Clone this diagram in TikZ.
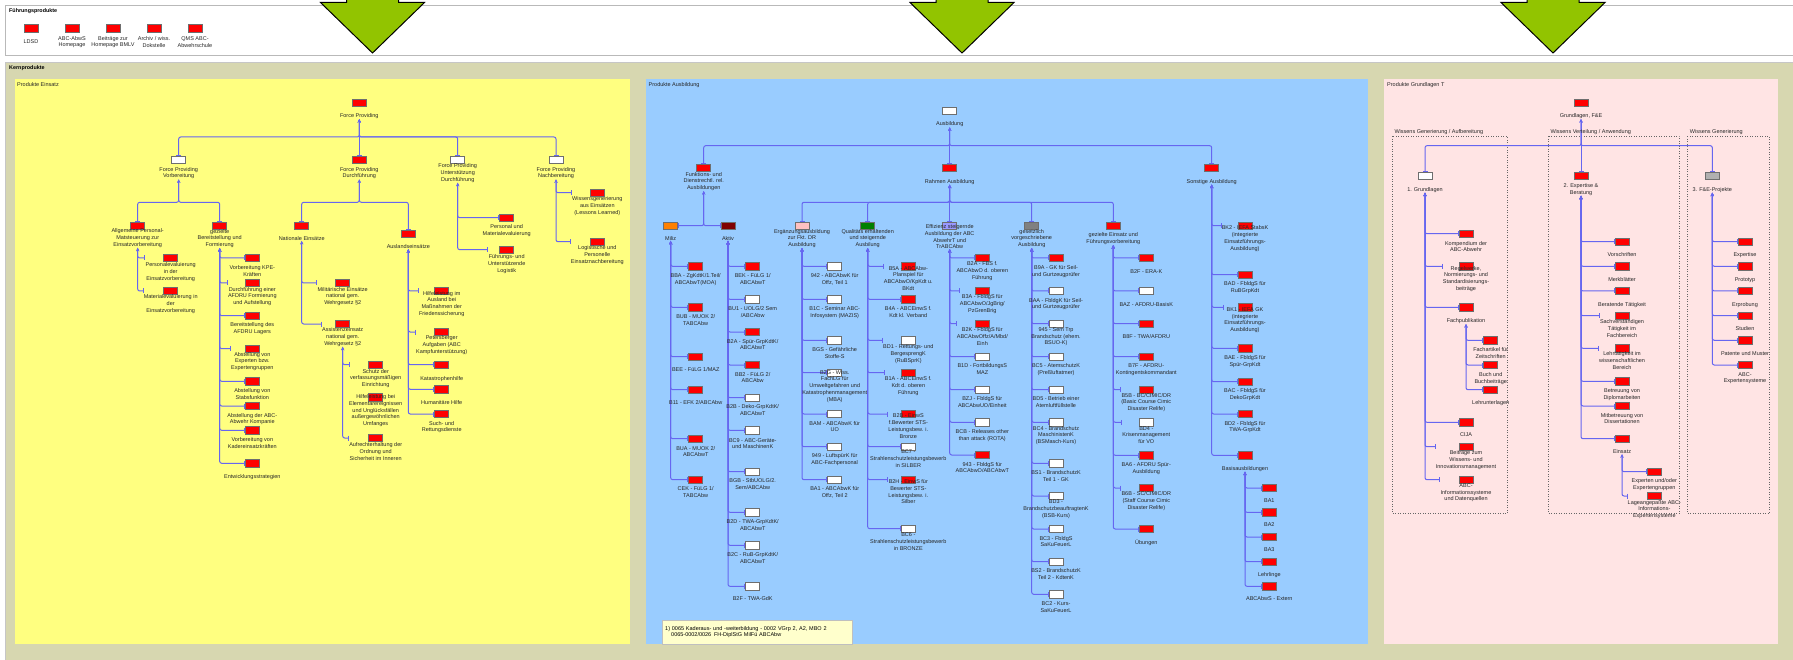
\documentclass[tikz,border=0pt]{standalone}
\usepackage{fontspec}
\setmainfont{Liberation Sans}
\usetikzlibrary{arrows.meta}
\pgfdeclarelayer{panels}
\pgfdeclarelayer{background}
\pgfsetlayers{panels,background,main}

\definecolor{linkblue}{RGB}{102,102,240}
\definecolor{boxline}{RGB}{110,110,110}
\definecolor{einsatzbg}{RGB}{255,255,128}
\definecolor{ausbbg}{RGB}{153,204,255}
\definecolor{grundbg}{RGB}{255,228,228}
\definecolor{kernbg}{RGB}{215,215,176}
\definecolor{arrowgreen}{RGB}{146,196,0}
\definecolor{milizorange}{RGB}{255,128,0}
\definecolor{aktivred}{RGB}{128,0,0}
\definecolor{ergpink}{RGB}{255,192,192}
\definecolor{qualgreen}{RGB}{0,128,0}
\definecolor{effviolet}{RGB}{153,153,255}
\definecolor{gesgray}{RGB}{128,128,128}
\definecolor{fegray}{RGB}{176,176,176}
\definecolor{notebg}{RGB}{255,255,204}

\newcommand\lbl{\fontsize{5.5}{6.7}\selectfont}

% x/y of the box / name / fill / y of first text line / text
\def\einsatzNodes{359.3/102.7/fp/red/115.7/{Force Providing},
  178.7/160/fpv/white/169.3/{Force Providing\\Vorbereitung},
  359.3/160/fpd/red/169.3/{Force Providing\\Durchführung},
  457.7/160/fpu/white/166/{Force Providing\\Unterstützung\\Durchführung},
  556/160/fpn/white/169.3/{Force Providing\\Nachbereitung},
  137.7/225.7/psm/red/231/{Allgemeine Personal-\\Matsteuerung zur\\Einsatzvorbereitung},
  219.7/225.7/gbf/red/231.3/{gezielte\\Bereitstellung und\\Formierung},
  301.7/225.7/nat/red/238.7/{Nationale Einsätze},
  408.3/234/ausl/red/247/{Auslandseinsätze},
  170.7/258/pev/red/264.7/{Personalevaluierung\\in der\\Einsatzvorbereitung},
  170.7/291/mev/red/297/{Materialevaluierung in\\der\\Einsatzvorbereitung},
  252.3/258/kpe/red/268/{Vorbereitung KPE-\\Kräften},
  252.3/283/afd/red/289.3/{Durchführung einer\\AFDRU Formierung\\und Aufstellung},
  252.3/315.7/lag/red/325/{Bereitstellung des\\AFDRU Lagers},
  252.3/348.7/exg/red/354.3/{Abstellung von\\Experten bzw.\\Expertengruppen},
  252.3/381.3/stf/red/390.7/{Abstellung von\\Stabsfunktion},
  252.3/406/kom/red/415.3/{Abstellung der ABC-\\Abwehr Kompanie},
  252.3/430.3/kad/red/440/{Vorbereitung von\\Kadereinsatzkräften},
  252.3/463.3/ews/red/476.7/{Entwicklungsstrategien},
  506.7/217.7/pme/red/226.7/{Personal und\\Materialevaluierung},
  506.7/249.7/ful/red/256.7/{Führungs- und\\Unterstützende\\Logistik},
  597.3/192.7/wge/red/199/{Wissensgenerierung\\aus Einsätzen\\(Lessons Learned)},
  597.3/241.7/lpe/red/248/{Logistische und\\Personelle\\Einsatznachbereitung},
  342.7/283/mil/red/289.3/{Militärische Einsätze\\national gem.\\Wehrgesetz §2},
  342.7/324/asz/red/330/{Assistenzeinsatz\\national gem.\\Wehrgesetz §2},
  375.7/364.7/sve/red/371.3/{Schutz der\\verfassungsmäßigen\\Einrichtung},
  375.7/397.3/hel/red/396.7/{Hilfeleistung bei\\Elementarereignissen\\und Unglücksfällen\\außergewöhnlichen\\Umfanges},
  375.7/438/aos/red/445/{Aufrechterhaltung der\\Ordnung und\\Sicherheit im Inneren},
  441.7/291/hia/red/293.3/{Hilfeleistung im\\Ausland bei\\Maßnahmen der\\Friedenssicherung},
  441.7/332/pet/red/338/{Petersberger\\Aufgaben (ABC\\Kampfunterstützung)},
  441.7/364.7/kat/red/378.3/{Katastrophenhilfe},
  441.7/389.3/hum/red/402.7/{Humanitäre Hilfe},
  441.7/414/sur/red/423.3/{Such- und\\Rettungsdienste}}

\def\ausbNodes{949.7/110.7/aus/white/124/{Ausbildung},
  703.7/167.7/fkt/red/174.3/{Funktions- und\\Dienstrechtl. rel.\\Ausbildungen},
  949.7/167.7/rah/red/181.3/{Rahmen Ausbildung},
  1211.7/167.7/son/red/181.3/{Sonstige Ausbildung},
  670.7/225.7/miz/milizorange/238.7/{Miliz},
  728/225.7/akt/aktivred/238.7/{Aktiv},
  802/225.7/erg/ergpink/231.3/{Ergänzungsausbildung\\zur Fkt. DR\\Ausbildung},
  867.7/225.7/qua/qualgreen/231.3/{Qualitäts erhaltenden\\und steigernde\\Ausbilung},
  949.7/225.7/eff/effviolet/226.7/{Effizienz steigernde\\Ausbildung der ABC\\AbwehrT und\\TrABCAbw},
  1031.7/225.7/ges/gesgray/231.3/{gesetzlich\\vorgeschriebene\\Ausbildung},
  1113.3/225.7/gef/red/235/{gezielte Einsatz und\\Führungsvorbereitung},
  695.7/266.3/m1/red/276/{BBA - ZgKdtK/1.Teil/\\ABCAbwT(MOA)},
  695.7/307.3/m2/red/316.7/{BUB - MUOK 2/\\TABCAbw},
  695.7/356.7/m3/red/369.3/{BEE - FüLG 1/MAZ},
  695.7/389.7/m4/red/402.7/{B11 - EFK 2/ABCAbw},
  695.7/438.7/m5/red/448.3/{BUA - MUOK 2/\\ABCAbwT},
  695.7/479.7/m6/red/488.7/{CEK - FüLG 1/\\TABCAbw},
  752.7/266.3/a1/red/276/{BEK - FüLG 1/\\ABCAbwT},
  752.7/299.3/a2/white/308.7/{BU1 - UOLG/2 Sem\\/ABCAbw},
  752.7/332/a3/red/341.3/{B2A - Spür-GrpKdtK/\\ABCAbwT},
  752.7/365/a4/red/374.3/{BB2 - FüLG 2/\\ABCAbw},
  752.7/397.7/a5/white/407/{B2B - Deko-GrpKdtK/\\ABCAbwT},
  752.7/430.3/a6/white/440.3/{BC9 - ABC-Geräte-\\und MaschinenK},
  752.7/471.7/a7/white/480.7/{BGB - StbUOLG/2.\\Sem/ABCAbw},
  752.7/512.3/a8/white/522/{B2D - TWA-GrpKdtK/\\ABCAbwT},
  752.7/545.3/a9/white/554.7/{B2C - RuB-GrpKdtK/\\ABCAbwT},
  752.7/586.3/a10/white/599/{B2F - TWA-GdK},
  834.7/266.3/e1/white/276/{942 - ABCAbwK für\\Offz, Teil 1},
  834.7/299.3/e2/white/308.7/{B1C - Seminar ABC-\\Infosystem (MAZIS)},
  834.7/340.3/e3/white/350/{BGS - Gefährliche\\Stoffe-S},
  834.7/372.7/e4/white/372.3/{B2G - Wiss.\\FachLG für\\Umweltgefahren und\\Katastrophenmanagement\\(MBA)},
  834.7/414/e5/white/423.3/{BAM - ABCAbwK für\\UO},
  834.7/446.7/e6/white/456/{949 - LuftspürK für\\ABC-Fachpersonal},
  834.7/479.7/e7/white/488.7/{BA1 - ABCAbwK für\\Offz, Teil 2},
  908.3/266.3/q1/red/268.3/{B5A - ABCAbw-\\Planspiel für\\ABCAbwO/KpKdt u.\\BKdt},
  908.3/299.3/q2/red/308.7/{B4A - ABCEinwS f.\\Kdt kl. Verband},
  908.3/340.3/q3/white/346.7/{BD1 - Rettungs- und\\BergesprengK\\(RuBSprK)},
  908.3/372.7/q4/red/379/{B1A - ABCEinwS f.\\Kdt d. oberen\\Führung},
  908.3/414/q5/red/416/{B2B - EinwS\\f.Bewerter STS-\\Leistungsbew. i.\\Bronze},
  908.3/446.7/q6/white/452/{BC7 -\\Strahlenschutzleistungsbewerb\\in SILBER},
  908.3/479.7/q7/red/481.7/{B2H - EinwS für\\Bewerter STS-\\Leistungsbew. i.\\Silber},
  908.3/528.7/q8/white/535/{BC6 -\\Strahlenschutzleistungsbewerb\\in BRONZE},
  982.3/258/f1/red/264/{B2A - FBS f.\\ABCAbwO d. oberen\\Führung},
  982.3/291/f2/red/296.7/{B3A - FbldgS für\\ABCAbwO/JgBrig/\\PzGrenBrig},
  982.3/323.7/f3/red/329.7/{B2K - FbldgS für\\ABCAbwOffz/A/Mbd/\\Einh},
  982.3/356.7/f4/white/366/{B1D - FortbildungsS\\MAZ},
  982.3/389.7/f5/white/399/{BZJ - FbldgS für\\ABCAbwUO/Einheit},
  982.3/422.3/f6/white/431.7/{BCB - Releases other\\than attack (ROTA)},
  982.3/455/f7/red/464.3/{943 - FbldgS für\\ABCAbwO/ABCAbwT},
  1056/258/g1/red/267.7/{B9A - GK für Seil-\\und Gurtzeugprüfer},
  1056/291/g2/white/300.3/{BAA - FbldgK für Seil-\\und Gurtzeugprüfer},
  1056/323.7/g3/white/329.7/{945 - Sem Trp\\Brandschutz (ehem.\\BSUO-K)},
  1056/356.7/g4/white/366/{BC5 - AtemschutzK\\(Preßluftatmer)},
  1056/389.7/g5/white/399/{BD5 - Betrieb einer\\Atemluftfüllstelle},
  1056/422.3/g6/white/428.3/{BC4 - Brandschutz\\MaschinistenK\\(BSMasch-Kurs)},
  1056/463.3/g7/white/472.7/{BS1 - BrandschutzK\\Teil 1 - GK},
  1056/496/g8/white/502/{BD3 -\\BrandschutzbeauftragtenK\\(BSB-Kurs)},
  1056/529/g9/white/538.3/{BC3 - FbldgS\\SaKuFeuerL},
  1056/561.7/g10/white/571/{BS2 - BrandschutzK\\Teil 2 - KdtenK},
  1056/594.3/g11/white/603.7/{BC2 - Kurs-\\SaKuFeuerL},
  1146.3/258/z1/red/271.7/{B2F - ERA-K},
  1146.3/291/z2/white/304.3/{BAZ - AFDRU-BasisK},
  1146.3/323.7/z3/red/336.7/{B8F - TWA/AFDRU},
  1146.3/356.7/z4/red/366/{B7F - AFDRU-\\Kontingentskommandant},
  1146.3/389.7/z5/red/395.3/{B5B - BC/CIMIC/DR\\(Basic Course Cimic\\Disaster Relife)},
  1146.3/422.3/z6/white/428.3/{BD4 -\\Krisenmanagement\\für VO},
  1146.3/455.3/z7/red/464.7/{BA6 - AFDRU Spür-\\Ausbildung},
  1146.3/488/z8/red/493.7/{B6B - SC/CIMIC/DR\\(Staff Course Cimic\\Disaster Relife)},
  1146.3/529/z9/red/542/{Übungen},
  1245/225.7/s1/red/228/{BK2 - IEFA StabsK\\(integrierte\\Einsatzführungs-\\Ausbildung)},
  1245/274.7/s2/red/284/{BAD - FbldgS für\\RuBGrpKdt},
  1245/307.3/s3/red/309.7/{BK1 - IEFA GK\\(integrierte\\Einsatzführungs-\\Ausbildung)},
  1245/348.3/s4/red/357.7/{BAE - FbldgS für\\Spür-GrpKdt},
  1245/381.7/s5/red/390.7/{BAC - FbldgS für\\DekoGrpKdt},
  1245/414/s6/red/423.3/{BD2 - FbldgS für\\TWA-GrpKdt},
  1245/455.3/s7/red/468.3/{Basisausbildungen},
  1269.3/488/b1/red/500.3/{BA1},
  1269.3/512.3/b2/red/525/{BA2},
  1269.3/537/b3/red/550/{BA3},
  1269.3/561.7/b4/red/575/{Lehrlinge},
  1269.3/586.3/b5/red/599/{ABCAbwS - Extern}}

\def\grundNodes{1581/102.7/gfe/red/115.7/{Grundlagen, F\&E},
  1425/176/gl/white/189.3/{1. Grundlagen},
  1581/176/exb/red/185.7/{2. Expertise \&\\Beratung},
  1712.3/176/fep/fegray/189.3/{3. F\&E-Projekte},
  1466/233.7/gl1/red/243.3/{Kompendium der\\ABC-Abwehr},
  1466/266.3/gl2/red/268.3/{Regelwerke,\\Normierungs- und\\Standardisierungs-\\beiträge},
  1466/307.3/gl3/red/320.7/{Fachpublikation},
  1466/422.3/gl4/red/435/{CIJA},
  1466/446.7/gl5/red/453/{Beiträge zum\\Wissens- und\\Innovationsmanagement},
  1466/479.7/gl6/red/485.7/{ABC-\\Informationssysteme\\und Datenquellen},
  1490.7/340.3/pb1/red/349.7/{Fachartikel für\\Zeitschriften},
  1490.7/365/pb2/red/374.7/{Buch und\\Buchbeiträge},
  1490.7/389.7/pb3/red/403/{Lehrunterlagen},
  1622/241.7/ex1/red/255/{Vorschriften},
  1622/266.3/ex2/red/279.7/{Merkblätter},
  1622/291/ex3/red/304.3/{Beratende Tätigkeit},
  1622/315.7/ex4/red/321.7/{Sachverständigen\\Tätigkeit im\\Fachbereich},
  1622/348.3/ex5/red/354/{Lehrtätigkeit im\\wissenschaftlichen\\Bereich},
  1622/381.3/ex6/red/390.7/{Betreuung von\\Diplomarbeiten},
  1622/406/ex7/red/415.3/{Mitbetreuung von\\Dissertationen},
  1622/438.7/ex8/red/452/{Einsatz},
  1654.3/471.7/ei1/red/481/{Experten und/oder\\Expertengruppen},
  1654.3/496/ei2/red/502.3/{Lageangepaßte ABC-\\Informations-\\Expertensysteme},
  1745/241.7/pj1/red/255/{Expertise},
  1745/266.3/pj2/red/279.7/{Prototyp},
  1745/291/pj3/red/304.3/{Erprobung},
  1745/315.7/pj4/red/328.7/{Studien},
  1745/340.3/pj5/red/353.3/{Patente und Muster},
  1745/365/pj6/red/374.3/{ABC-\\Expertensysteme}}

% child/parent/bus
\def\treeLinks{fpv/fp/fpbus, fpu/fp/fpbus, fpn/fp/fpbus, psm/fpv/fpsub, gbf/fpv/fpsub,
  nat/fpd/fpsub, ausl/fpd/fpsub, fkt/aus/ausbus, son/aus/ausbus, erg/rah/rahbus,
  qua/rah/rahbus, ges/rah/rahbus, gef/rah/rahbus, gl/gfe/grbus, fep/gfe/grbus}
\def\straightLinks{fpd/fp, rah/aus, eff/rah, exb/gfe}
% child/parent, ending at the box
\def\boxLinks{kpe/gbf, lag/gbf, stf/gbf, kom/gbf, kad/gbf, ews/gbf, pme/fpu, kat/ausl, hum/ausl, sur/ausl,
  m1/miz, m2/miz, m3/miz, m4/miz, m5/miz, m6/miz,
  a1/akt, a2/akt, a3/akt, a4/akt, a5/akt, a6/akt, a7/akt, a8/akt, a9/akt, a10/akt,
  e1/erg, e2/erg, e3/erg, e4/erg, e5/erg, e6/erg, e7/erg, q2/qua, q6/qua, q8/qua,
  f1/eff, f4/eff, f5/eff, f6/eff, f7/eff,
  g1/ges, g2/ges, g3/ges, g4/ges, g5/ges, g6/ges, g7/ges, g8/ges, g9/ges, g10/ges, g11/ges,
  z1/gef, z2/gef, z3/gef, z4/gef, z7/gef, z9/gef, s2/son, s4/son, s5/son, s6/son, s7/son,
  b1/s7, b2/s7, b3/s7, b4/s7, b5/s7,
  gl1/gl, gl3/gl, gl4/gl, pb1/gl3, pb2/gl3, pb3/gl3,
  ex1/exb, ex2/exb, ex3/exb, ex6/exb, ex7/exb, ex8/exb, ei1/ex8,
  pj1/fep, pj2/fep, pj3/fep, pj4/fep, pj5/fep, pj6/fep}
% child/parent, ending at the text
\def\textLinks{pev/psm, mev/psm, afd/gbf, exg/gbf, ful/fpu, wge/fpn, lpe/fpn, mil/nat, asz/nat,
  sve/asz, aos/asz, hia/ausl, pet/ausl, q1/qua, q3/qua, q4/qua, q5/qua, q7/qua, f2/eff, f3/eff,
  z5/gef, z6/gef, z8/gef, s1/son, s3/son, gl2/gl, gl5/gl, gl6/gl, ex4/exb, ex5/exb, ei2/ex8}

\tikzstyle{prod}=[draw=boxline, line width=0.6pt, minimum width=14pt, minimum height=7.5pt, inner sep=0pt]
\tikzstyle{caption}=[font=\lbl, text=black!85, align=center, inner sep=0pt, anchor=north]
\tikzstyle{link}=[draw=linkblue, line width=1pt, rounded corners=2pt, {Bar[width=5pt]}-{Stealth[length=3.5pt,width=3.2pt]}]
\tikzstyle{panel title}=[font=\lbl, text=black!85, anchor=west, inner sep=0pt]
\tikzstyle{band title}=[font=\fontsize{5.4}{6.5}\selectfont\bfseries, anchor=west, inner sep=0pt]
\tikzstyle{wissframe}=[draw=black!60, dotted, line width=0.5pt]
\tikzstyle{down arrow}=[fill=arrowgreen, draw=black, line width=1pt, line join=miter]
\tikzstyle{note}=[fill=notebg, draw=black!25, font=\lbl, align=left, text width=184pt, inner xsep=3pt, minimum height=24pt, anchor=north west]

\begin{document}
\begin{tikzpicture}[x=1pt, y=-1pt]
  \useasboundingbox (0,0) rectangle (1793,660);

  % bands and panels
  \begin{pgfonlayer}{panels}
    \fill[white] (0,0) rectangle (1793,660);
    \draw[gray!55, line width=1.3pt] (5.5,5.5) rectangle (1800,55.5);
    \fill[kernbg] (5,62) rectangle (1800,665);
    \draw[gray!45, line width=0.8pt] (5,665) -- (5,62) -- (1800,62);
    \fill[einsatzbg] (14.5,79) rectangle (630,644);
    \fill[ausbbg] (646,79) rectangle (1368,644);
    \fill[grundbg] (1384,79) rectangle (1778,644);
    \draw[wissframe] (1392.3,136.3) rectangle (1507.3,513.3);
    \draw[wissframe] (1548.3,136.3) rectangle (1679.3,513.3);
    \draw[wissframe] (1687.3,136.3) rectangle (1769.3,513.3);
  \end{pgfonlayer}

  \foreach \cx in {372.5, 962, 1553}
    \draw[down arrow] (\cx-26,-8) -- (\cx-26,2.5) -- (\cx-52,2.5) -- (\cx,53)
      -- (\cx+52,2.5) -- (\cx+26,2.5) -- (\cx+26,-8);

  \node[band title] (fuehrung) at (9,11) {Führungsprodukte};
  \node[band title] (kern) at (9,68) {Kernprodukte};
  \node[panel title] (einsatz) at (17,85) {Produkte Einsatz};
  \node[panel title] (ausb) at (648.5,85) {Produkte Ausbildung};
  \node[panel title] (grund) at (1387,85) {Produkte Grundlagen T};
  \node[panel title] (wiss1) at (1394.3,132.5) {Wissens Generierung / Aufbereitung};
  \node[panel title] (wiss2) at (1550.3,132.5) {Wissens Verteilung / Anwendung};
  \node[panel title] (wiss3) at (1689.7,132.5) {Wissens Generierung};

  % Fuehrungsprodukte
  \foreach \x/\name/\txt in {31/ldsd/LDSD, 72/hp/{ABC-AbwS\\Homepage}, 113/bmlv/{Beiträge zur\\Homepage BMLV},
      154/arch/{Archiv / wiss.\\Dokstelle}, 195/qms/{QMS ABC-\\Abwehrschule}} {
    \node[prod, fill=red] (\name) at (\x,28.5) {};
    \node[caption, anchor=center] (\name-t) at (\x,42) {\txt};
  }

  % Kernprodukte
  \foreach \x/\y/\name/\col/\ly/\txt in \einsatzNodes {
    \node[prod, fill=\col] (\name) at (\x,\y) {};
    \node[caption] (\name-t) at (\x,\ly-2.2) {\txt};
  }
  \foreach \x/\y/\name/\col/\ly/\txt in \ausbNodes {
    \node[prod, fill=\col] (\name) at (\x,\y) {};
    \node[caption] (\name-t) at (\x,\ly-2.2) {\txt};
  }
  \foreach \x/\y/\name/\col/\ly/\txt in \grundNodes {
    \node[prod, fill=\col] (\name) at (\x,\y) {};
    \node[caption] (\name-t) at (\x,\ly-2.2) {\txt};
  }

  \node[note] (fn) at (662,620) {1) 0065 Kaderaus- und -weiterbildung - 0002 VGrp 2, A2, MBO 2\\
    \hspace*{6pt}0065-0002/0026\enspace FH-DiplStG MilFü ABCAbw};

  \coordinate (fpbus) at (0,137);
  \coordinate (fpsub) at (0,202.3);
  \coordinate (ausbus) at (0,145.7);
  \coordinate (rahbus) at (0,202.3);
  \coordinate (grbus) at (0,145.7);

  % connectors
  \begin{pgfonlayer}{background}
    \foreach \src/\dst/\via in \treeLinks
      \draw[link] (\src.north) -- (\src.north |- \via) -| (\dst-t.south);
    \foreach \src/\dst in \straightLinks
      \draw[link] (\src.north) -- (\dst-t.south);
    \foreach \src/\dst in \boxLinks
      \draw[link] (\src.west) -| (\dst-t.south);
    \foreach \src/\dst in \textLinks
      \draw[link] (\src-t.west |- \src) -| (\dst-t.south);
    \draw[link] (miz.east) -| (fkt-t.south);
    \draw[link] (akt.west) -| (fkt-t.south);
  \end{pgfonlayer}
\end{tikzpicture}
\end{document}
